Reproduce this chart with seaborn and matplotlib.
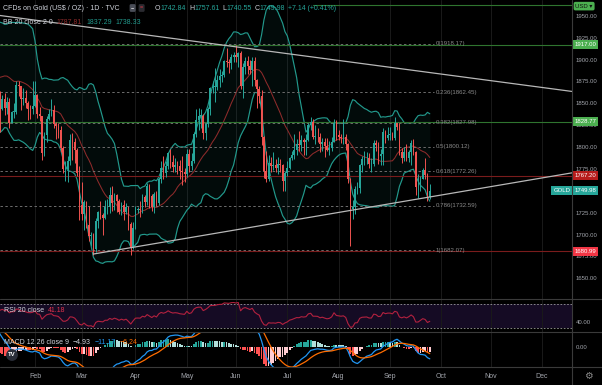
import numpy as np
import pandas as pd
import matplotlib
matplotlib.use("Agg")
import matplotlib.pyplot as plt
import matplotlib.transforms as mtrans
import seaborn as sns
from matplotlib.lines import Line2D

# daily OHLC, TVC:GOLD, Dec 2020 - 24 Sep 2021
opens = [1777, 1815, 1831, 1841, 1839, 1864, 1871, 1839, 1837, 1840, 1828, 1855, 1862, 1886, 1881, 1873, 1861, 1871, 1876, 1876, 1878, 1893,
         1895, 1943, 1950, 1918, 1913, 1849, 1844, 1855, 1845, 1851, 1828, 1840, 1840, 1871, 1870, 1855, 1856, 1850, 1844, 1843,
         1847, 1860, 1838, 1835, 1793, 1814, 1832, 1838, 1842, 1826, 1824, 1819, 1799, 1775, 1775, 1784, 1808, 1806, 1797, 1770,
         1734, 1723, 1737, 1711, 1698, 1700, 1683, 1716, 1726, 1722, 1719, 1731, 1731, 1745, 1736, 1745, 1738, 1726, 1734, 1726, 1732, 1712, 1685,
         1707, 1728, 1729, 1728, 1743, 1737, 1756, 1744, 1732, 1746, 1736, 1763, 1776, 1770, 1778, 1793, 1783, 1777, 1780, 1778, 1773, 1771,
         1769, 1792, 1778, 1784, 1815, 1831, 1836, 1836, 1816, 1826, 1843, 1867, 1869, 1869, 1877, 1881, 1882, 1898, 1897, 1896, 1903,
         1905, 1903, 1908, 1870, 1891, 1898, 1893, 1888, 1898, 1877, 1866, 1858, 1811, 1773, 1764, 1782, 1778, 1779, 1776, 1781, 1779, 1761,
         1770, 1776, 1787, 1791, 1797, 1803, 1802, 1808, 1806, 1808, 1825, 1829, 1812, 1812, 1811, 1803, 1806, 1801, 1797, 1799, 1806, 1828,
         1814, 1812, 1810, 1812, 1804, 1763, 1729, 1731, 1752, 1753, 1779, 1786, 1787, 1788, 1781, 1781, 1805, 1802, 1790, 1792, 1817, 1810,
         1814, 1814, 1810, 1827, 1823, 1794, 1788, 1794, 1787, 1794, 1805, 1794, 1754, 1754, 1764, 1774, 1768, 1742.84]
highs = [1818, 1833, 1846, 1848, 1866, 1875, 1875, 1849, 1845, 1841, 1857, 1866, 1891, 1890, 1907, 1882, 1876, 1884, 1895, 1884, 1895, 1900,
         1945, 1952, 1959, 1926, 1917, 1864, 1860, 1862, 1857, 1856, 1841, 1850, 1875, 1875, 1870, 1867, 1865, 1853, 1848, 1875,
         1875, 1861, 1846, 1836, 1817, 1835, 1844, 1855, 1848, 1829, 1827, 1824, 1801, 1784, 1790, 1815, 1816, 1810, 1799, 1778,
         1760, 1740, 1738, 1733, 1703, 1702, 1719, 1727, 1738, 1725, 1740, 1741, 1754, 1755, 1747, 1746, 1741, 1737, 1740, 1736, 1732, 1714, 1714,
         1733, 1731, 1738, 1746, 1745, 1759, 1758, 1746, 1749, 1750, 1766, 1784, 1790, 1784, 1794, 1798, 1791, 1788, 1784, 1785, 1790, 1776,
         1798, 1798, 1793, 1817, 1843, 1845, 1844, 1838, 1828, 1846, 1869, 1875, 1890, 1882, 1889, 1887, 1900, 1913, 1901, 1906, 1909,
         1917, 1909, 1910, 1896, 1903, 1904, 1900, 1903, 1903, 1878, 1870, 1865, 1813, 1795, 1791, 1789, 1794, 1786, 1789, 1786, 1781, 1773,
         1784, 1789, 1796, 1815, 1809, 1818, 1814, 1810, 1815, 1828, 1834, 1832, 1825, 1822, 1816, 1810, 1810, 1810, 1807, 1812, 1832, 1831,
         1820, 1815, 1832, 1815, 1805, 1765, 1740, 1755, 1760, 1781, 1790, 1795, 1794, 1793, 1787, 1808, 1808, 1806, 1798, 1822, 1820, 1823,
         1823, 1817, 1834, 1828, 1827, 1799, 1800, 1803, 1797, 1808, 1809, 1795, 1769, 1767, 1776, 1787, 1770, 1757.61]
lows = [1773, 1806, 1828, 1828, 1834, 1857, 1826, 1826, 1833, 1821, 1826, 1850, 1859, 1875, 1854, 1860, 1859, 1868, 1873, 1870, 1873, 1887,
        1894, 1935, 1902, 1907, 1836, 1817, 1842, 1837, 1838, 1822, 1828, 1833, 1838, 1858, 1842, 1848, 1845, 1831, 1832, 1838,
        1846, 1833, 1830, 1785, 1790, 1806, 1831, 1835, 1822, 1809, 1810, 1794, 1770, 1761, 1760, 1780, 1785, 1782, 1767, 1717,
        1717, 1705, 1708, 1693, 1687, 1677, 1680, 1708, 1718, 1699, 1718, 1723, 1725, 1727, 1728, 1726, 1724, 1722, 1717, 1723, 1705, 1677, 1683,
        1706, 1725, 1720, 1725, 1732, 1734, 1730, 1727, 1725, 1733, 1734, 1759, 1764, 1766, 1775, 1776, 1771, 1771, 1769, 1763, 1757, 1760,
        1766, 1771, 1774, 1782, 1812, 1820, 1822, 1809, 1808, 1823, 1837, 1862, 1852, 1865, 1869, 1874, 1880, 1892, 1885, 1889, 1897,
        1897, 1892, 1866, 1856, 1883, 1883, 1883, 1870, 1870, 1845, 1850, 1802, 1765, 1760, 1761, 1771, 1774, 1771, 1769, 1771, 1750, 1750,
        1767, 1775, 1785, 1786, 1791, 1795, 1795, 1791, 1791, 1807, 1820, 1809, 1804, 1806, 1794, 1795, 1789, 1795, 1791, 1795, 1806, 1808,
        1808, 1805, 1803, 1797, 1759, 1687, 1718, 1723, 1746, 1748, 1771, 1780, 1781, 1776, 1772, 1778, 1795, 1781, 1779, 1780, 1805, 1808,
        1808, 1808, 1808, 1820, 1791, 1782, 1784, 1784, 1783, 1780, 1791, 1745, 1742, 1750, 1763, 1763, 1738, 1740.55]
closes = [1815, 1831, 1841, 1839, 1864, 1871, 1839, 1837, 1840, 1828, 1855, 1862, 1886, 1881, 1873, 1861, 1871, 1876, 1876, 1878, 1893, 1895,
          1943, 1950, 1918, 1913, 1849, 1844, 1855, 1845, 1851, 1828, 1840, 1840, 1871, 1870, 1855, 1856, 1850, 1844, 1843, 1847,
          1860, 1838, 1835, 1793, 1814, 1832, 1838, 1842, 1826, 1824, 1819, 1799, 1775, 1775, 1784, 1808, 1806, 1797, 1770, 1734,
          1723, 1737, 1711, 1698, 1700, 1683, 1716, 1726, 1722, 1719, 1731, 1731, 1745, 1736, 1745, 1738, 1726, 1734, 1726, 1732, 1712, 1685, 1707,
          1728, 1729, 1728, 1743, 1737, 1756, 1744, 1732, 1746, 1736, 1763, 1776, 1770, 1778, 1793, 1783, 1777, 1780, 1778, 1773, 1771, 1769,
          1792, 1778, 1784, 1815, 1831, 1836, 1836, 1816, 1826, 1843, 1867, 1869, 1869, 1877, 1881, 1882, 1898, 1897, 1896, 1903, 1905,
          1903, 1908, 1870, 1891, 1898, 1893, 1888, 1898, 1877, 1866, 1858, 1811, 1773, 1764, 1782, 1778, 1779, 1776, 1781, 1779, 1761, 1770,
          1776, 1787, 1791, 1797, 1803, 1802, 1808, 1806, 1808, 1825, 1829, 1812, 1812, 1811, 1803, 1806, 1801, 1797, 1799, 1806, 1828, 1814,
          1812, 1810, 1812, 1804, 1763, 1729, 1731, 1752, 1753, 1779, 1786, 1787, 1788, 1781, 1781, 1805, 1802, 1790, 1792, 1817, 1810, 1814,
          1814, 1810, 1827, 1823, 1794, 1788, 1794, 1787, 1794, 1805, 1794, 1754, 1754, 1764, 1774, 1768, 1742.84, 1749.98]

holidays = ["2020-12-25", "2021-01-01"]
month_labels = ["Feb", "Mar", "Apr", "May", "Jun", "Jul", "Aug", "Sep", "Oct", "Nov", "Dec"]

# drawings on the chart
fib_ratios = [0, 0.236, 0.382, 0.5, 0.618, 0.786, 1]
fib_prices = [1918.17, 1862.45, 1827.98, 1800.12, 1772.26, 1732.59, 1682.07]
fib_end_date = "2021-09-28"
green_levels = [1917.00, 1828.77]
red_levels = [1767.20, 1680.99]
top_level = 1962
desc_line = [("2021-01-11", 1950.3), ("2021-06-01", 1914.5)]
asc_line = [("2021-03-08", 1677.7), ("2021-09-24", 1742.9)]

UP, DOWN = "#26a69a", "#ef5350"
TXT = "#d1d4dc"
AXT = "#a3a6ad"

hol = pd.to_datetime(holidays)
dates = pd.bdate_range("2020-12-01", "2021-09-24")
dates = dates[~dates.isin(hol)]
calendar = pd.bdate_range("2020-12-01", "2021-12-31")
calendar = calendar[~calendar.isin(hol)]
pos = {d: i for i, d in enumerate(calendar)}

df = pd.DataFrame({"open": opens, "high": highs, "low": lows, "close": closes}, index=dates)
df["x"] = np.arange(len(df))

# indicators
mid = df["close"].rolling(20).mean()
sd = df["close"].rolling(20).std(ddof=0)
df["bb_mid"] = mid
df["bb_up"] = mid + 2 * sd
df["bb_lo"] = mid - 2 * sd
delta = df["close"].diff()
gain = delta.clip(lower=0).ewm(alpha=1 / 20, adjust=False).mean()
loss = (-delta.clip(upper=0)).ewm(alpha=1 / 20, adjust=False).mean()
df["rsi"] = 100 - 100 / (1 + gain / loss)
ema12 = df["close"].ewm(span=12, adjust=False).mean()
ema26 = df["close"].ewm(span=26, adjust=False).mean()
df["macd"] = ema12 - ema26
df["signal"] = df["macd"].ewm(span=9, adjust=False).mean()
df["hist"] = df["macd"] - df["signal"]

sns.set_style("dark", rc={"axes.facecolor": "black", "figure.facecolor": "black",
                          "grid.color": "#1a1a1a", "axes.edgecolor": "black"})
plt.rcParams["font.family"] = ["Liberation Sans", "DejaVu Sans"]

W, H = 602, 385
fig = plt.figure(figsize=(W / 100, H / 100), dpi=100, facecolor="black")


def panel(top, bottom):
    return fig.add_axes([0, 1 - bottom / H, 572 / W, (bottom - top) / H])


ax = panel(0, 299)
ax_rsi = panel(299, 332)
ax_macd = panel(332, 367)

# x scale: bar index, ~2.34 px per bar, Feb 1 at 35 px
px_bar = 2.336
feb_i = pos[pd.Timestamp("2021-02-01")]
x_left = feb_i - 35 / px_bar
x_right = x_left + 572 / px_bar

# --- main price panel
ax.fill_between(df["x"], df["bb_up"], df["bb_lo"], color="#26a69a", alpha=0.07, lw=0, zorder=1)
sns.lineplot(data=df, x="x", y="bb_up", ax=ax, color="#22998c", lw=0.85, zorder=2)
sns.lineplot(data=df, x="x", y="bb_lo", ax=ax, color="#22998c", lw=0.85, zorder=2)
sns.lineplot(data=df, x="x", y="bb_mid", ax=ax, color="#8e2b2b", lw=0.75, zorder=2)

cols = np.where(df["close"] >= df["open"], UP, DOWN)
ax.vlines(df["x"], df["low"], df["high"], colors=cols, lw=0.7, zorder=3)
body = np.maximum((df["close"] - df["open"]).abs(), 0.6)
ax.bar(df["x"], body, bottom=np.minimum(df["open"], df["close"]), width=0.72, color=cols, lw=0, zorder=4)

fib_end = pos[pd.Timestamp(fib_end_date)]
for r, p in zip(fib_ratios, fib_prices):
    ax.hlines(p, x_left, fib_end, colors="#6e6e6e", linestyles=(0, (2.5, 2.5)), lw=0.7, zorder=2)
    ax.text(fib_end + 0.4, p, f"{r:g}({p:.2f})", color="#8a8a8a", fontsize=4.4, va="center", ha="left", zorder=6)

for p in green_levels:
    ax.axhline(p, color="#2f742f", lw=0.8, zorder=2)
for p in red_levels:
    ax.axhline(p, color="#7a1c1c", lw=0.8, zorder=2)
ax.axhline(top_level, xmin=313 / 572, color="#2f742f", lw=0.8, zorder=2)


def trend(line, start_at_first):
    (d0, p0), (d1, p1) = line
    x0, x1 = pos[pd.Timestamp(d0)], pos[pd.Timestamp(d1)]
    k = (p1 - p0) / (x1 - x0)
    xa = x0 if start_at_first else x_left
    ax.plot([xa, x_right], [p0 + k * (xa - x0), p0 + k * (x_right - x0)], color="#b8b8b8", lw=0.9, zorder=5)


trend(desc_line, False)
trend(asc_line, True)

ax.set_ylim(1626.3, 1968)
ax.set_yticks(np.arange(1650, 1951, 25))
ax.set_yticklabels([f"{v:.2f}" for v in np.arange(1650, 1951, 25)])

blend = mtrans.blended_transform_factory(ax.transAxes, ax.transData)


def tag(y, text, fc, tc="white"):
    ax.text(1.004, y, text, transform=blend, ha="left", va="center", fontsize=4.3, color=tc, clip_on=False,
            zorder=10, bbox=dict(boxstyle="square,pad=0.35", fc=fc, ec="none"))


tag(1917.00, "1917.00", "#4caf50")
tag(1828.77, "1828.77", "#4caf50")
tag(1767.20, "1767.20", "#b71c1c")
tag(1680.99, "1680.99", "#f23645")
tag(closes[-1], f"{closes[-1]:.2f}", "#26a69a")
ax.text(0.997, closes[-1], "GOLD", transform=blend, ha="right", va="center", fontsize=4.3, color="white",
        zorder=10, bbox=dict(boxstyle="square,pad=0.35", fc="#26a69a", ec="none"))
ax.text(1.006, 1961, "USD ▾", transform=blend, ha="left", va="center", fontsize=4.3, color="#101010", clip_on=False,
        zorder=10, bbox=dict(boxstyle="round,pad=0.3,rounding_size=0.3", fc="#4caf50", ec="none"))

# --- RSI panel
ax_rsi.axhspan(30, 70, color="#150b24", lw=0, zorder=0)
for lvl in (30, 70):
    ax_rsi.axhline(lvl, color="#9a9a9a", lw=0.6, ls=(0, (2, 2)), zorder=1)
sns.lineplot(data=df, x="x", y="rsi", ax=ax_rsi, color="#b3213f", lw=0.8, zorder=2)
ax_rsi.set_ylim(23.3, 78.3)
ax_rsi.set_yticks([40])
ax_rsi.set_yticklabels(["40.00"])

# --- MACD panel
h = df["hist"]
prev = h.shift(1)
hcol = np.where(h >= 0, np.where(h >= prev, "#26a69a", "#b2dfdb"),
                np.where(h < prev, "#ff5252", "#ffcdd2"))
ax_macd.bar(df["x"], h, width=0.75, color=hcol, lw=0, zorder=1)
sns.lineplot(data=df, x="x", y="macd", ax=ax_macd, color="#2196f3", lw=0.9, zorder=2)
sns.lineplot(data=df, x="x", y="signal", ax=ax_macd, color="#ff6d00", lw=0.9, zorder=2)
ax_macd.set_ylim(-19, 14.3)
ax_macd.set_yticks([0])
ax_macd.set_yticklabels(["0.00"])

month_pos = [np.flatnonzero((calendar.year == 2021) & (calendar.month == m))[0] for m in range(2, 13)]
for a in (ax, ax_rsi, ax_macd):
    a.set_xlabel("")
    a.set_ylabel("")
    a.set_xticks(month_pos)
    a.grid(axis="x", color="#1a1a1a", lw=0.7)
    a.grid(axis="y", visible=False)
    a.yaxis.tick_right()
    a.tick_params(axis="y", length=0, pad=2.5, labelsize=4.3, labelcolor=AXT)
    a.tick_params(axis="x", length=0, labelbottom=False)
    for s in a.spines.values():
        s.set_visible(False)
ax_macd.set_xticklabels(month_labels)
ax_macd.tick_params(axis="x", labelbottom=True, pad=4, labelsize=5, labelcolor=AXT)
for a in (ax, ax_rsi, ax_macd):
    a.set_xlim(x_left, x_right)

# separators
for yp in (299, 332, 367):
    fig.add_artist(Line2D([0, 1], [1 - yp / H] * 2, transform=fig.transFigure, color="#3a3a3a", lw=0.8))
fig.add_artist(Line2D([572 / W] * 2, [0, 1], transform=fig.transFigure, color="#3a3a3a", lw=0.8))

# legends
fig.canvas.draw()
rend = fig.canvas.get_renderer()


def row(x, y, pieces, size=5):
    for s, c, gap in pieces:
        t = fig.text(x / W, 1 - y / H, s, color=c, fontsize=size, ha="left", va="center")
        x += t.get_window_extent(renderer=rend).width + gap


row(3, 8, [("CFDs on Gold (US$ / OZ) · 1D · TVC", TXT, 10)])
fig.text(131 / W, 1 - 8 / H, "−", color="white", fontsize=4, ha="left", va="center",
         bbox=dict(boxstyle="round,pad=0.25", fc="#4a4d57", ec="none"))
fig.text(140 / W, 1 - 8 / H, "=", color="#f23645", fontsize=4, ha="left", va="center",
         bbox=dict(boxstyle="round,pad=0.25", fc="#2a2a30", ec="none"))
row(155, 8, [("O", TXT, 0), ("1742.84", UP, 3), ("H", TXT, 0), ("1757.61", UP, 3),
             ("L", TXT, 0), ("1740.55", UP, 3), ("C", TXT, 0), ("1749.98", UP, 3), ("+7.14 (+0.41%)", UP, 0)])
row(3, 22, [("BB 20 close 2 0", TXT, 4), ("1787.81", "#8e2b2b", 4), ("1837.29", "#22998c", 4), ("1738.33", "#22998c", 0)])
row(4, 310, [("RSI 20 close", TXT, 4), ("41.18", "#e0314b", 0)])
row(4, 342, [("MACD 12 26 close 9", TXT, 4), ("−4.93", TXT, 4), ("−11.17", "#2196f3", 4), ("−6.24", "#ff6d00", 0)])

fig.text(12 / W, 1 - 355 / H, "TV", color="white", fontsize=4.3, fontweight="bold", ha="center", va="center",
         bbox=dict(boxstyle="circle,pad=0.35", fc="#2a2e39", ec="none"))
fig.text(588 / W, 1 - 376 / H, "⚙", family="DejaVu Sans", color="#8a8a8a", fontsize=7, ha="center", va="center")

fig.savefig("out.png", dpi=100, facecolor="black")
